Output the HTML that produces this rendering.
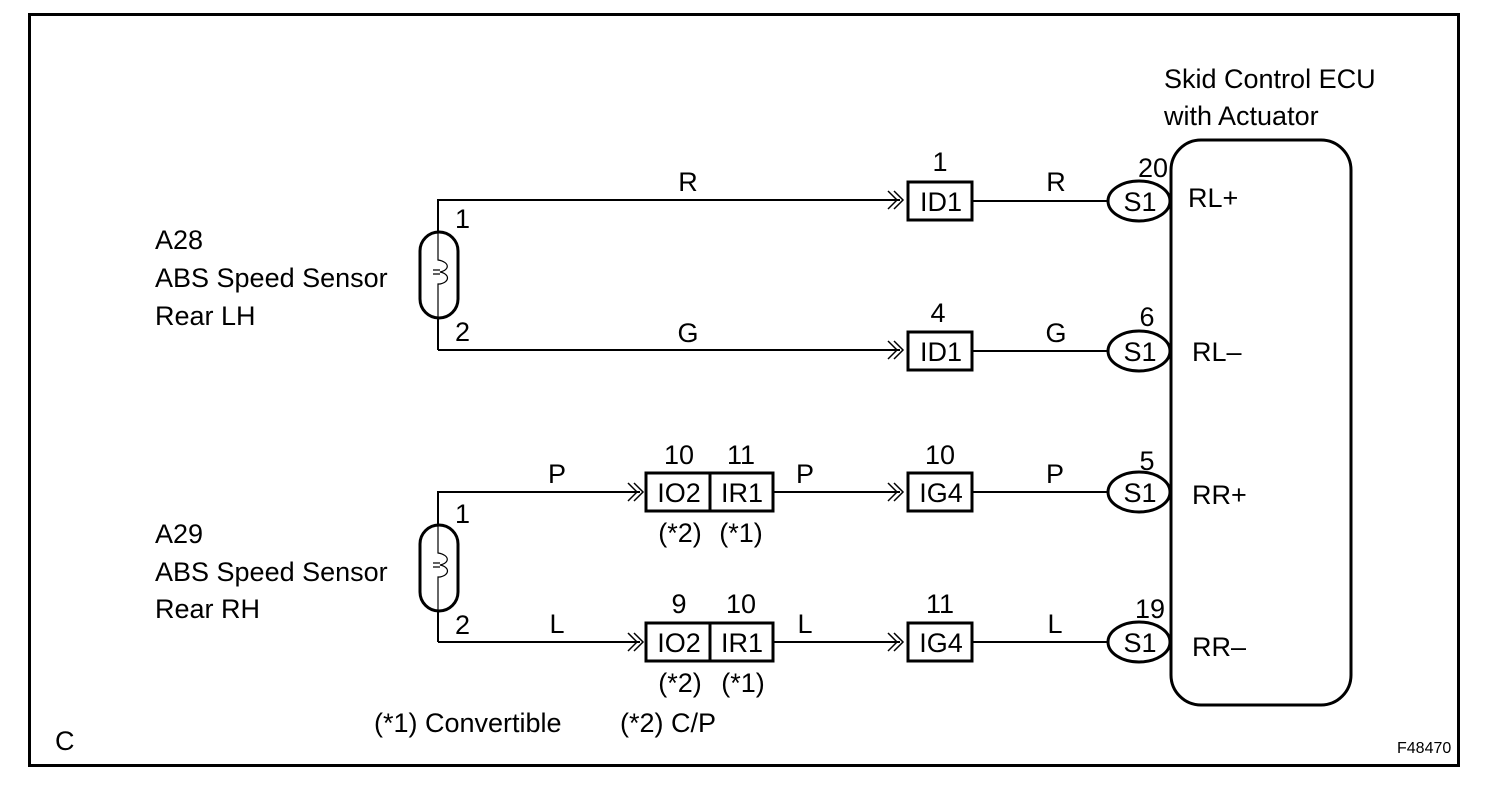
<!DOCTYPE html>
<html><head><style>
body{margin:0;background:#fff}
svg text{font-family:"Liberation Sans",Arial,sans-serif;font-size:27px;fill:#000}
.m{text-anchor:middle}
</style></head><body>
<svg width="1504" height="784" viewBox="0 0 1504 784" xmlns="http://www.w3.org/2000/svg">
<rect x="29.5" y="14.5" width="1429" height="751" fill="none" stroke="#000" stroke-width="3"/>
<g fill="none" stroke="#000" stroke-width="2">
<path d="M438 350 V200 H900"/>
<path d="M438 350 H900"/>
<path d="M972 201 H1108"/>
<path d="M972 351 H1108"/>
<path d="M438 642 V492 H640"/>
<path d="M438 642 H640"/>
<path d="M773 492 H900"/><path d="M773 642 H900"/>
<path d="M972 492 H1108"/><path d="M972 642 H1108"/>
<g stroke-width="1.5">
<path d="M888 191 L897 200 L888 209 M894 191 L903 200 L894 209"/>
<path d="M888 341 L897 350 L888 359 M894 341 L903 350 L894 359"/>
<path d="M888 483 L897 492 L888 501 M894 483 L903 492 L894 501"/>
<path d="M888 633 L897 642 L888 651 M894 633 L903 642 L894 651"/>
<path d="M628 483 L637 492 L628 501 M634 483 L643 492 L634 501"/>
<path d="M628 633 L637 642 L628 651 M634 633 L643 642 L634 651"/>
</g>
</g>
<g fill="#fff" stroke="#000" stroke-width="3">
<rect x="908" y="182" width="64" height="38"/>
<rect x="908" y="332" width="64" height="38"/>
<rect x="908" y="473" width="64" height="38"/>
<rect x="908" y="623" width="64" height="38"/>
<rect x="646" y="473" width="127" height="38"/><line x1="710" y1="473" x2="710" y2="511"/>
<rect x="646" y="623" width="127" height="38"/><line x1="710" y1="623" x2="710" y2="661"/>
<rect x="1171" y="140" width="180" height="565" rx="30"/>
<ellipse cx="1139" cy="201" rx="31" ry="20"/>
<ellipse cx="1139" cy="351" rx="31" ry="20"/>
<ellipse cx="1139" cy="492" rx="31" ry="20"/>
<ellipse cx="1139" cy="642" rx="31" ry="20"/>
<rect x="420" y="232" width="38" height="86" rx="19"/>
<rect x="420" y="525" width="38" height="86" rx="19"/>
</g>
<g fill="none" stroke="#000" stroke-width="1.2">
<path d="M438 232 V260 C450 262 450 270 440 272 C450 274 450 282 440 284 H438 V318"/>
<path d="M438 525 V553 C450 555 450 563 440 565 C450 567 450 575 440 577 H438 V611"/>
<path d="M433 270 h7 M433 274 h7 M433 563 h7 M433 567 h7"/>
</g>
<text x="1164" y="88">Skid Control ECU</text>
<text x="1164" y="125">with Actuator</text>
<text x="155" y="249">A28</text><text x="155" y="287">ABS Speed Sensor</text><text x="155" y="325">Rear LH</text>
<text x="155" y="543">A29</text><text x="155" y="581">ABS Speed Sensor</text><text x="155" y="618">Rear RH</text>
<text x="455" y="228">1</text><text x="455" y="341">2</text>
<text x="455" y="523">1</text><text x="455" y="634">2</text>
<text class="m" x="688" y="191">R</text><text class="m" x="688" y="342">G</text>
<text class="m" x="557" y="483">P</text><text class="m" x="557" y="633">L</text>
<text class="m" x="805" y="483">P</text><text class="m" x="805" y="633">L</text>
<text class="m" x="1056" y="191">R</text><text class="m" x="1056" y="342">G</text>
<text class="m" x="1055" y="483">P</text><text class="m" x="1055" y="633">L</text>
<text class="m" x="940" y="171">1</text><text class="m" x="938" y="322">4</text>
<text class="m" x="940" y="464">10</text><text class="m" x="940" y="613">11</text>
<text class="m" x="679" y="464">10</text><text class="m" x="741" y="464">11</text>
<text class="m" x="679" y="613">9</text><text class="m" x="741" y="613">10</text>
<text class="m" x="941" y="211">ID1</text><text class="m" x="941" y="361">ID1</text>
<text class="m" x="941" y="502">IG4</text><text class="m" x="941" y="652">IG4</text>
<text class="m" x="679" y="502">IO2</text><text class="m" x="742" y="502">IR1</text>
<text class="m" x="679" y="652">IO2</text><text class="m" x="742" y="652">IR1</text>
<text class="m" x="680" y="542">(*2)</text><text class="m" x="741" y="542">(*1)</text>
<text class="m" x="680" y="692">(*2)</text><text class="m" x="743" y="692">(*1)</text>
<text class="m" x="1140" y="211">S1</text><text class="m" x="1140" y="361">S1</text>
<text class="m" x="1140" y="502">S1</text><text class="m" x="1140" y="652">S1</text>
<text class="m" x="1153" y="177">20</text><text class="m" x="1147" y="326">6</text>
<text class="m" x="1147" y="470">5</text><text class="m" x="1150" y="618">19</text>
<text x="1188" y="207">RL+</text><text x="1192" y="361">RL–</text>
<text x="1192" y="504">RR+</text><text x="1192" y="656">RR–</text>
<text x="374" y="732">(*1) Convertible</text>
<text x="620" y="732">(*2) C/P</text>
<text x="55" y="750">C</text>
<text x="1397" y="753" style="font-size:16px">F48470</text>
</svg>
</body></html>
